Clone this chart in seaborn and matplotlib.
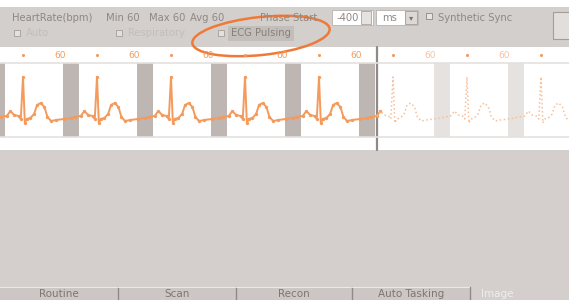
import numpy as np
import pandas as pd
import matplotlib
matplotlib.use('Agg')
import matplotlib.pyplot as plt
import seaborn as sns
from matplotlib.patches import Rectangle, Ellipse

# one ECG beat: time from R peak (s), amplitude (px above baseline)
beat_dt = [-0.30, -0.22, -0.17, -0.12, -0.06, -0.03, 0.0, 0.025, 0.05, 0.10,
           0.15, 0.19, 0.24, 0.29, 0.33, 0.38, 0.45, 0.55, 0.65]
beat_amp = [0, 1, 6, 2, 1, -2, 40, -6, -2, -1, 3, 12, 14, 10, 0, -4, -3, -2, -1]
r_times = [-1, 0, 1, 2, 3, 4, 5, 6, 7]
split_time = 4.78          # acquired / predicted boundary
gap_starts = [-0.46, 0.54, 1.54, 2.54, 3.54, 4.54, 5.55, 6.55]
gap_len = 0.22
hr_times = [0.5, 1.5, 2.5, 3.5, 4.5, 5.5, 6.5]
hr_values = [60, 60, 60, 60, 60, 60, 60]

toolbar_row1 = [("HeartRate(bpm)", 12), ("Min 60", 106), ("Max 60", 149),
                ("Avg 60", 190), ("Phase Start", 260)]
buttons = ["Routine", "Scan", "Recon", "Auto Tasking"]
button_edges = [0, 118, 236, 352, 470]

# build the trace
t, amp = [], []
for r in r_times:
    t += [r + d for d in beat_dt]
    amp += beat_amp
ecg = pd.DataFrame({"t": t, "amp": amp})
acq = ecg[ecg.t <= split_time + 0.05]
pred = ecg[ecg.t >= split_time - 0.05]

BG = '#d4cfcc'
TXT = '#8e8884'
ORANGE = '#f39a5c'
FS = 7.2

sns.set_style("white")
fig = plt.figure(figsize=(5.69, 3.0), dpi=100)
fig.patch.set_facecolor('white')

ui = fig.add_axes([0, 0, 1, 1])
ui.set_xlim(0, 569)
ui.set_ylim(300, 0)
ui.axis('off')

# toolbar
ui.add_patch(Rectangle((0, 7), 569, 40, color='#d3cfcd', lw=0))
for label, x in toolbar_row1:
    ui.text(x, 18, label, fontsize=FS, color=TXT, va='center')
ui.add_patch(Rectangle((332, 10), 41, 15, facecolor='white', edgecolor='#b8b2ae', lw=0.6))
ui.text(359, 18, "-400", fontsize=FS, color=TXT, va='center', ha='right')
ui.add_patch(Rectangle((361, 11), 10, 13, facecolor='#e6e2e0', edgecolor='#9a948f', lw=0.5))
ui.add_patch(Rectangle((376, 10), 42, 15, facecolor='white', edgecolor='#b8b2ae', lw=0.6))
ui.text(382, 18, "ms", fontsize=FS, color=TXT, va='center')
ui.add_patch(Rectangle((405, 11), 12, 13, facecolor='#dcd8d5', edgecolor='#8e8884', lw=0.5))
ui.text(411, 18, "▾", fontsize=6, color='#7a746f', va='center', ha='center')
ui.add_patch(Rectangle((426, 13), 6, 6, facecolor='#e8e4e2', edgecolor='#8e8884', lw=0.6))
ui.text(438, 18, "Synthetic Sync", fontsize=FS, color=TXT, va='center')
ui.add_patch(Rectangle((553, 12), 18, 27, facecolor='#e2dedc', edgecolor='#a39d99', lw=0.8))

# second toolbar row
for x, label in [(14, "Auto"), (116, "Respiratory"), (218, "")]:
    ui.add_patch(Rectangle((x, 30), 6, 6, facecolor='#e4e0de', edgecolor='#a49e9a', lw=0.6))
    if label:
        ui.text(x + 12, 33, label, fontsize=FS, color='#c3bebb', va='center')
ui.add_patch(Rectangle((228, 26), 66, 15, facecolor='#c4beba', lw=0))
ui.text(231, 33.5, "ECG Pulsing", fontsize=FS, color='#858079', va='center')

# white strip and lower area
ui.add_patch(Rectangle((0, 47), 569, 103, color='white', lw=0))
ui.add_patch(Rectangle((0, 150), 569, 150, color=BG, lw=0))
ui.plot([377, 377], [47, 150], color='#8f8a87', lw=1.6)

# bottom buttons
for i, name in enumerate(buttons):
    x0, x1 = button_edges[i], button_edges[i + 1]
    ui.add_patch(Rectangle((x0, 287), x1 - x0, 13, facecolor='#ccc7c4', lw=0))
    ui.plot([x0, x1], [287, 287], color='#ebe8e6', lw=0.8)
    ui.plot([x1, x1], [287, 300], color='#8f8a87', lw=1)
    ui.text((x0 + x1) / 2, 294, name, fontsize=7.5, color='#7d7773', ha='center', va='center')
ui.text(497, 294, "Image", fontsize=7.5, color='#f0eeed', ha='center', va='center')

# ECG strip (px units: baseline at y=117)
ax = fig.add_axes([0, (300 - 140) / 300, 1, 93 / 300])
ax.patch.set_alpha(0)
ax.set_xlim((0 - 23) / 74, (569 - 23) / 74)
ax.set_ylim(-23, 70)
ax.axis('off')

ax.axhline(54, color='#e4e0de', lw=1.2)
ax.axhline(-20, color='#e4e0de', lw=1.2)
for g in gap_starts:
    c = '#bdb6b3' if g < split_time else '#e6e2e0'
    ax.fill_between([g, g + gap_len], -20, 54, color=c, lw=0)

sns.lineplot(data=acq, x="t", y="amp", ax=ax, color=ORANGE, lw=1.4,
             marker='o', markersize=2.4, markeredgewidth=0, sort=False, estimator=None)
sns.lineplot(data=pred, x="t", y="amp", ax=ax, color='#f6bf9c', lw=1.1,
             linestyle=':', sort=False, estimator=None)

# heart-rate markers
hr_dots = pd.DataFrame({"t": [r for r in r_times if r >= 0], "y": 62})
sns.scatterplot(data=hr_dots, x="t", y="y", ax=ax, color=ORANGE, s=5, linewidth=0)
for ht, hv in zip(hr_times, hr_values):
    a = 1.0 if ht < split_time else 0.6
    ax.text(ht, 62, str(hv), fontsize=6.5, color=ORANGE, alpha=a, ha='center', va='center')
ax.set_xlabel('')
ax.set_ylabel('')

# highlight ellipse
ui.add_patch(Ellipse((261, 36), 138, 38, angle=-6, fill=False, edgecolor='#ef7a38', lw=1.8))

plt.savefig("out.png", dpi=100)
plt.close()
